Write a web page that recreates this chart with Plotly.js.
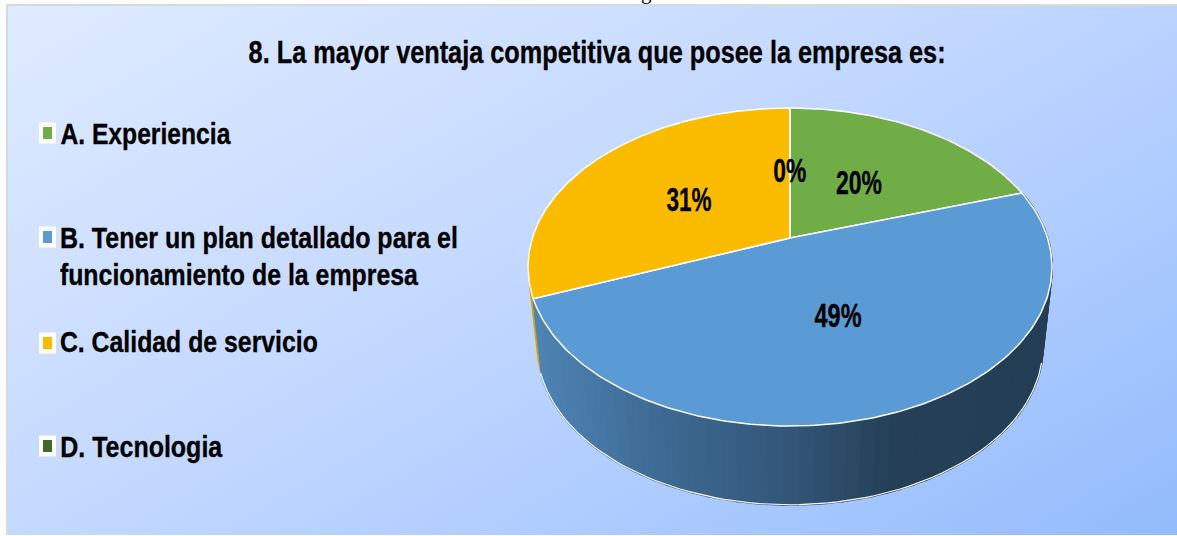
<!DOCTYPE html>
<html>
<head>
<meta charset="utf-8">
<script src="https://cdn.plot.ly/plotly-3.0.1.min.js"></script>
<style>
html,body{margin:0;padding:0;background:#fff;width:1177px;height:536px;overflow:hidden}
#plate{position:absolute;left:6px;top:4px;width:1171px;height:531px;box-sizing:border-box;border-left:2px solid #d9d9d9;border-top:2px solid #d9d9d9;
background:linear-gradient(150deg,#dfebff 0%,#c6daff 42%,#aeccff 70%,#93bbfb 100%)}
#chart{position:absolute;left:0;top:0;width:1177px;height:536px}
</style>
</head>
<body>
<div id="plate"></div>
<div id="chart"></div>
<script>
// ---- chart data ----
const categories = ['A. Experiencia', 'B. Tener un plan detallado para el', 'funcionamiento de la empresa', 'C. Calidad de servicio', 'D. Tecnologia'];
const legendColorIndex = [0, 1, null, 2, 3];
const values = [20, 49, 31, 0];
const percentLabels = ['20%', '49%', '31%', '0%'];
const sliceColors = ['#70ad47', '#5b9bd5', '#fbbc00', '#43682b'];
const chartTitle = '8. La mayor ventaja competitiva que posee la empresa es:';

// ---- pie geometry (perspective tilt) ----
const TILT = 0.1824;
const CX = 790;
const topRim = {a: 257.6, b: 153.7, cy: 238};
const baseRim = {a: 248.6, b: 152.7, cy: 318};
const total = values.reduce((s, v) => s + v, 0);

function project(rim, pct, r) {
  const t = pct / 100 * 2 * Math.PI;
  const u = r * Math.sin(t), v = r * Math.cos(t), w = 1 + TILT * v;
  return [CX + rim.a * u / w, rim.cy - rim.b * v / w];
}
function sideColor(x) {
  const stops = [[535, [80, 133, 182]], [650, [63, 108, 150]], [790, [51, 86, 120]], [890, [37, 63, 87]], [1060, [36, 62, 85]]];
  for (let i = 1; i < stops.length; i++) {
    if (x <= stops[i][0]) {
      const f = Math.max(0, (x - stops[i - 1][0]) / (stops[i][0] - stops[i - 1][0]));
      const c = stops[i][1].map((e, j) => Math.round(stops[i - 1][1][j] + (e - stops[i - 1][1][j]) * f));
      return `rgb(${c.join(',')})`;
    }
  }
  return 'rgb(36,62,85)';
}

const traces = [];
let acc = 0;
const spans = values.map(v => { const s = [acc, acc + v / total * 100]; acc = s[1]; return s; });

function strip(p0, p1, color, lw) {
  const A = project(topRim, p0, 1), B = project(topRim, p1, 1), C = project(baseRim, p1, 1), D = project(baseRim, p0, 1);
  traces.push({type: 'scatter', mode: 'lines', x: [A[0], B[0], C[0], D[0], A[0]], y: [A[1], B[1], C[1], D[1], A[1]],
    fill: 'toself', fillcolor: color, line: {color: color, width: lw}, hoverinfo: 'skip', showlegend: false});
}
const sStep = 0.8;
for (let p = spans[2][0]; p < spans[2][0] + 10; p += sStep) strip(p, p + sStep, '#dca606', 0.5);
for (let p = spans[1][0]; p < spans[1][1] - 1e-6; p += sStep) {
  const q = Math.min(p + sStep, spans[1][1]);
  strip(p, q, sideColor(project(baseRim, (p + q) / 2, 1)[0]), 2);
}
(function () {
  const xs = [], ys = [];
  for (let p = 29.5; p <= spans[1][1] + 0.5; p += 0.5) { const P = project(baseRim, p, 1); xs.push(P[0]); ys.push(P[1]); }
  traces.push({type: 'scatter', mode: 'lines', x: xs, y: ys, line: {color: '#ffffff', width: 1.2}, hoverinfo: 'skip', showlegend: false});
})();

values.forEach((v, i) => {
  const xs = [CX], ys = [topRim.cy];
  for (let p = spans[i][0]; p <= spans[i][1] + 1e-6; p += 0.25) { const P = project(topRim, p, 1); xs.push(P[0]); ys.push(P[1]); }
  const E = project(topRim, spans[i][1], 1);
  xs.push(E[0], CX); ys.push(E[1], topRim.cy);
  traces.push({type: 'scatter', mode: 'lines', x: xs, y: ys, fill: 'toself', fillcolor: sliceColors[i],
    line: {color: '#ffffff', width: 1.5}, name: categories[i], hoverinfo: 'skip', showlegend: false});
});

// ---- page layout constants (pixels in the 1177x536 frame) ----
const labelBoxes = [[836, 182, 46], [814, 315, 47], [666, 199, 45], [773, 170, 33]]; // left, middle y, width
const legendBoxes = [[60, 133, 170], [60, 237, 398], [60, 274, 358], [60, 341, 258], [60, 446, 162]];
const titleBox = [248, 52, 697];
const swatchY = [133, 237, null, 343, 446];

const SANS = '"Liberation Sans", Arial, sans-serif';
const annotations = [], squeeze = [];
function addText(text, box, size) {
  annotations.push({x: box[0] + box[2] / 2, y: box[1], text, showarrow: false, xanchor: 'center', yanchor: 'middle',
    font: {family: SANS, size, color: '#000', weight: 700}});
  squeeze.push(box[2]);
}
addText(chartTitle, titleBox, 32);
percentLabels.forEach((t, i) => addText(t, labelBoxes[i], 33));
categories.forEach((c, i) => addText(c, legendBoxes[i], 30));
annotations.push({x: 646, y: 6, text: 'g', showarrow: false, xanchor: 'center', yanchor: 'bottom',
  font: {family: '"Liberation Serif", serif', size: 21, color: '#000'}});

const shapes = [];
swatchY.forEach((y, i) => {
  if (y === null) return;
  shapes.push({type: 'rect', xref: 'x', yref: 'y', x0: 39, x1: 56, y0: y - 10.5, y1: y + 10.5, fillcolor: '#fff', line: {width: 0}});
  shapes.push({type: 'rect', xref: 'x', yref: 'y', x0: 43, x1: 52, y0: y - 6, y1: y + 6, fillcolor: sliceColors[legendColorIndex[i]], line: {width: 0}});
});

const layout = {
  width: 1177, height: 536, margin: {l: 0, r: 0, t: 0, b: 0},
  paper_bgcolor: 'rgba(0,0,0,0)', plot_bgcolor: 'rgba(0,0,0,0)',
  xaxis: {range: [0, 1177], visible: false, fixedrange: true},
  yaxis: {range: [536, 0], visible: false, fixedrange: true},
  showlegend: false, annotations, shapes
};
Plotly.newPlot('chart', traces, layout, {displayModeBar: false, staticPlot: true}).then(() => {
  // the reference type is condensed: fit each text to its measured width, keeping it real text
  document.querySelectorAll('#chart .annotation-text').forEach((el, i) => {
    if (squeeze[i] === undefined) return;
    el.setAttribute('textLength', squeeze[i]);
    el.setAttribute('lengthAdjust', 'spacingAndGlyphs');
    el.style.stroke = '#000';
    el.style.strokeWidth = '0.35px';
  });
});
</script>
</body>
</html>
